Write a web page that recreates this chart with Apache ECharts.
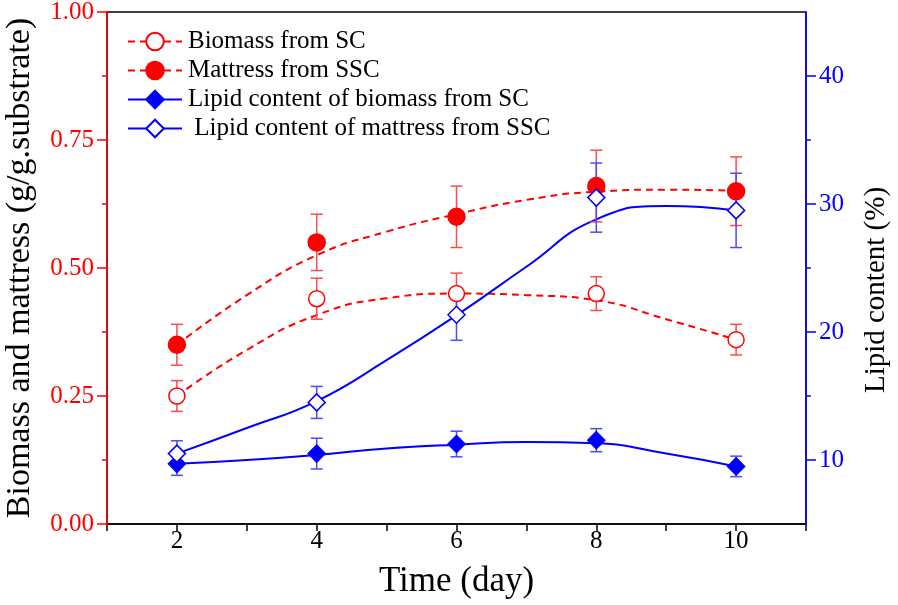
<!DOCTYPE html>
<html>
<head>
<meta charset="utf-8">
<script src="https://cdn.jsdelivr.net/npm/echarts@6/dist/echarts.min.js"></script>
<style>
html, body { margin: 0; padding: 0; background: #fff; }
#chart { width: 898px; height: 605px; }
</style>
</head>
<body>
<div id="chart"></div>
<script>
// sampling days
const days = [2, 4, 6, 8, 10];

// measured points, left axis (g/g.substrate)
const biomassSC = [0.25, 0.44, 0.45, 0.45, 0.36];
const biomassSCErr = [0.03, 0.04, 0.04, 0.033, 0.03];
const mattressSSC = [0.35, 0.55, 0.60, 0.66, 0.65];
const mattressSSCErr = [0.04, 0.055, 0.06, 0.07, 0.067];

// measured points, right axis (%)
const lipidSC = [9.7, 10.5, 11.25, 11.55, 9.5];
const lipidSCErr = [0.9, 1.2, 1.0, 0.9, 0.8];
const lipidSSC = [10.5, 14.5, 21.35, 30.5, 29.5];
const lipidSSCErr = [1.0, 1.25, 2.0, 2.7, 2.9];

// fitted curves at each day
const fitDays = [2, 3, 4, 5, 6, 7, 8, 9, 10];
const fitBiomassSC = [0.25, 0.34, 0.408, 0.441, 0.45, 0.447, 0.437, 0.40, 0.36];
const fitMattressSSC = [0.35, 0.447, 0.525, 0.571, 0.605, 0.633, 0.649, 0.653, 0.651];
const fitLipidSC = [9.7, 10.0, 10.4, 10.9, 11.2, 11.4, 11.3, 10.5, 9.5];
const fitLipidSSC = [10.5, 12.5, 14.6, 17.8, 21.3, 25.1, 28.8, 29.85, 29.5];

// right axis tick values
const lipidTicks = [10, 20, 30, 40];
const lipidMinorTicks = [15, 25, 35];

const legendNames = [
  'Biomass from SC',
  'Mattress from SSC',
  'Lipid content of biomass from SC',
  ' Lipid content of mattress from SSC'
];

const RED = '#ff0000';
const BLUE = '#0000ff';
const FONT = '"Liberation Serif", "Times New Roman", serif';

let myChart = echarts.init(document.getElementById('chart'));

function pairs(xs, ys) {
  return xs.map((x, i) => [x, ys[i]]);
}

function errorBars(vals, errs, color, yAxisIndex) {
  return {
    type: 'custom',
    yAxisIndex: yAxisIndex,
    z: 3,
    silent: true,
    data: days.map((d, i) => [d, vals[i] - errs[i], vals[i] + errs[i]]),
    encode: { x: 0, y: [1, 2] },
    renderItem(params, api) {
      const lo = api.coord([api.value(0), api.value(1)]);
      const hi = api.coord([api.value(0), api.value(2)]);
      const w = 6;
      const style = { stroke: color, lineWidth: 1.5 };
      return {
        type: 'group',
        children: [
          { type: 'line', shape: { x1: hi[0], y1: hi[1], x2: lo[0], y2: lo[1] }, style: style },
          { type: 'line', shape: { x1: hi[0] - w, y1: hi[1], x2: hi[0] + w, y2: hi[1] }, style: style },
          { type: 'line', shape: { x1: lo[0] - w, y1: lo[1], x2: lo[0] + w, y2: lo[1] }, style: style }
        ]
      };
    }
  };
}

function fitLine(name, data, yAxisIndex, color, dashed, symbol, fill) {
  return {
    name: name,
    type: 'line',
    yAxisIndex: yAxisIndex,
    data: pairs(fitDays, data),
    smooth: true,
    showSymbol: false,
    symbol: symbol,
    itemStyle: { color: fill, borderColor: color, borderWidth: 1.5 },
    lineStyle: { color: color, width: 2, type: dashed ? [7, 5] : 'solid' },
    z: 2
  };
}

function points(data, yAxisIndex, color, symbol, size, fill) {
  return {
    type: 'scatter',
    yAxisIndex: yAxisIndex,
    data: pairs(days, data),
    symbol: symbol,
    symbolSize: size,
    itemStyle: { color: fill, borderColor: color, borderWidth: 1.5, opacity: 1 },
    z: 5
  };
}

const option = {
  animation: false,
  grid: {
    left: 107,
    right: 92,
    top: 12,
    bottom: 81,
    outerBoundsMode: 'none',
    containLabel: false,
    show: true,
    borderColor: '#000',
    borderWidth: 1.5
  },
  legend: {
    data: legendNames,
    orient: 'vertical',
    left: 122,
    top: 24,
    itemWidth: 54,
    itemHeight: 22,
    itemGap: 4,
    textStyle: { fontFamily: FONT, fontSize: 25, color: '#000', padding: [0, 0, 0, 1] }
  },
  xAxis: {
    type: 'value',
    min: 1,
    max: 11,
    interval: 1,
    name: 'Time (day)',
    nameLocation: 'middle',
    nameGap: 40,
    nameTextStyle: { fontFamily: FONT, fontSize: 35, color: '#000' },
    axisLine: { lineStyle: { color: '#000', width: 1.5 } },
    axisTick: { length: 7, lineStyle: { color: '#000', width: 1.5 } },
    axisLabel: {
      formatter: v => (v % 2 === 0 ? String(v) : ''),
      fontFamily: FONT, fontSize: 25, color: '#000', margin: 5
    },
    splitLine: { show: false }
  },
  yAxis: [{
    type: 'value',
    position: 'left',
    min: 0,
    max: 1,
    interval: 0.25,
    name: 'Biomass and mattress (g/g.substrate)',
    nameLocation: 'middle',
    nameRotate: 90,
    nameGap: 70,
    nameTextStyle: { fontFamily: FONT, fontSize: 34, color: '#000' },
    axisLine: { show: true, lineStyle: { color: RED, width: 1.5 } },
    axisTick: { length: 10, lineStyle: { color: RED, width: 1.5 } },
    minorTick: { show: true, splitNumber: 2, length: 5, lineStyle: { color: RED, width: 1.5 } },
    axisLabel: { formatter: v => v.toFixed(2), fontFamily: FONT, fontSize: 25, color: RED, margin: 13 },
    splitLine: { show: false },
    minorSplitLine: { show: false },
    z: 5
  }, {
    type: 'value',
    position: 'right',
    min: 5,
    max: 45,
    interval: 5,
    name: 'Lipid content (%)',
    nameLocation: 'middle',
    nameRotate: 90,
    nameGap: 56,
    nameTextStyle: { fontFamily: FONT, fontSize: 29, color: '#000', padding: [0, 44, 0, 0] },
    axisLine: { show: true, lineStyle: { color: BLUE, width: 1.5 } },
    axisTick: { customValues: lipidTicks, length: 10, lineStyle: { color: BLUE, width: 1.5 } },
    axisLabel: { customValues: lipidTicks, fontFamily: FONT, fontSize: 25, color: BLUE, margin: 13 },
    splitLine: { show: false },
    z: 5
  }, {
    type: 'value',
    position: 'right',
    min: 5,
    max: 45,
    interval: 5,
    axisLine: { show: false },
    axisTick: { customValues: lipidMinorTicks, length: 5, lineStyle: { color: BLUE, width: 1.5 } },
    axisLabel: { show: false },
    splitLine: { show: false }
  }],
  series: [
    fitLine(legendNames[0], fitBiomassSC, 0, RED, true, 'circle', '#fff'),
    fitLine(legendNames[1], fitMattressSSC, 0, RED, true, 'circle', RED),
    fitLine(legendNames[2], fitLipidSC, 1, BLUE, false, 'diamond', BLUE),
    fitLine(legendNames[3], fitLipidSSC, 1, BLUE, false, 'diamond', '#fff'),
    errorBars(biomassSC, biomassSCErr, '#ff4a4a', 0),
    errorBars(mattressSSC, mattressSSCErr, '#ff4a4a', 0),
    errorBars(lipidSC, lipidSCErr, '#4a4aff', 1),
    errorBars(lipidSSC, lipidSSCErr, '#4a4aff', 1),
    points(biomassSC, 0, RED, 'circle', 16, '#fff'),
    points(mattressSSC, 0, RED, 'circle', 17, RED),
    points(lipidSC, 1, BLUE, 'diamond', 17, BLUE),
    points(lipidSSC, 1, BLUE, 'diamond', 17, '#fff')
  ]
};

myChart.setOption(option, true);

window.addEventListener('resize', () => {
  myChart.resize();
});
</script>
</body>
</html>
